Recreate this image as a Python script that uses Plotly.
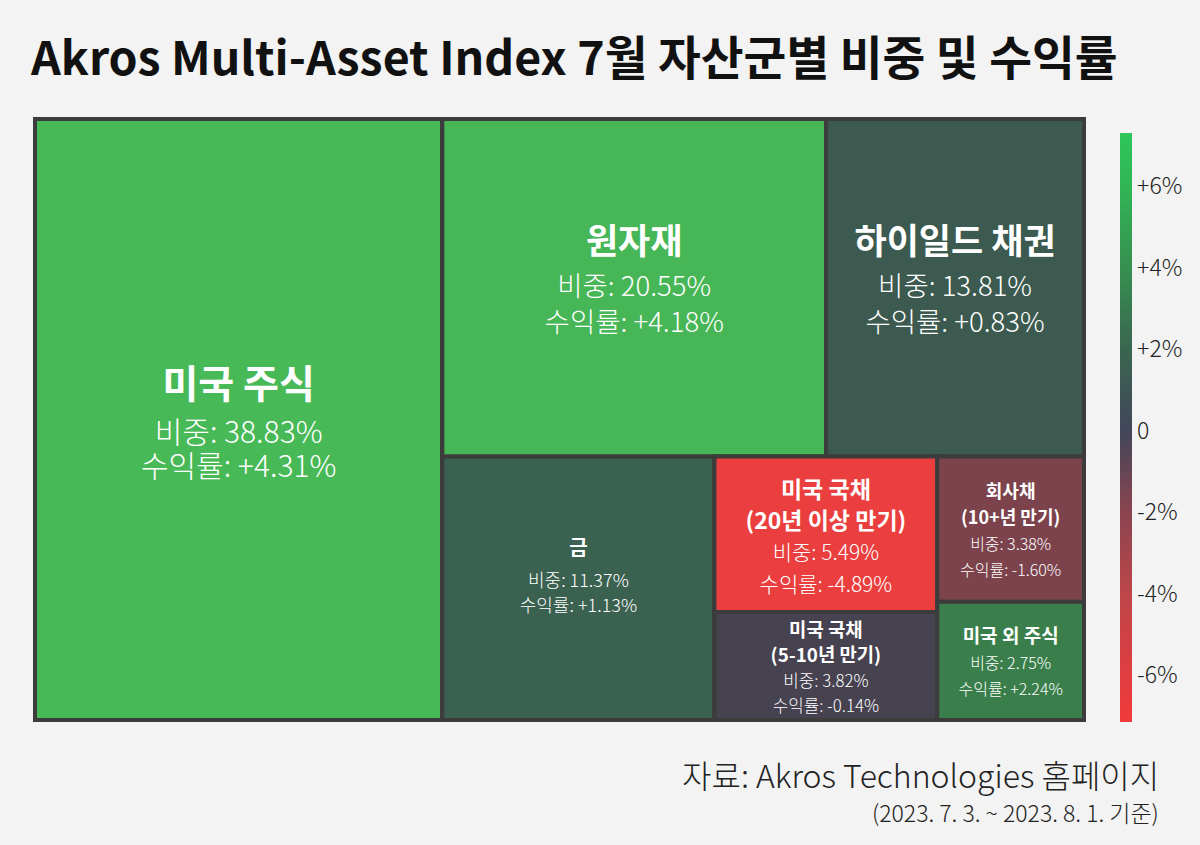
import plotly.graph_objects as go
from plotly.colors import sample_colorscale

# ---------------- data ----------------
asset_names = ["미국 주식", "원자재", "하이일드 채권", "금",
               "미국 국채<br>(20년 이상 만기)", "미국 국채<br>(5-10년 만기)",
               "회사채<br>(10+년 만기)", "미국 외 주식"]
weights = [38.83, 20.55, 13.81, 11.37, 5.49, 3.82, 3.38, 2.75]
returns = [4.31, 4.18, 0.83, 1.13, -4.89, -0.14, -1.60, 2.24]

# grouping that reproduces the tile arrangement of the reference
asset_parents = ["root", "G2", "G2", "G3", "G4", "G4", "G5", "G5"]
group_ids = ["root", "G1", "G2", "G3", "G4", "G5"]
group_parents = ["", "root", "G1", "G1", "G3", "G3"]
# order in which nodes are listed (children order = listing order)
node_order = ["root", "미국 주식", "G1", "G2", "원자재", "하이일드 채권", "G3", "금",
              "G4", "미국 국채<br>(20년 이상 만기)", "미국 국채<br>(5-10년 만기)",
              "G5", "회사채<br>(10+년 만기)", "미국 외 주식"]

colorbar_tickvals = [6, 4, 2, 0, -2, -4, -6]
colorbar_ticktext = ["+6%", "+4%", "+2%", "0", "-2%", "-4%", "-6%"]

title_text = "Akros Multi-Asset Index 7월 자산군별 비중 및 수익률"
source_text = "자료: Akros Technologies 홈페이지"
period_text = "(2023. 7. 3. ~ 2023. 8. 1. 기준)"

# ---------------- styles ----------------
FONT = "Noto Sans CJK KR"
FRAME = "#3c3c3c"
BG = "#f3f3f3"
title_sizes = [39, 35, 35, 20, 23, 19, 18, 19]
body_sizes = [30, 27.5, 27.5, 18, 21, 17, 16, 16]
# line-height unit (base font size) and number of line steps title->body, body->body
base_sizes = [8.72, 4.6, 4.6, 4.85, 24, 19.5, 20, 20]
title_gaps = [4, 7, 7, 5, 1, 1, 1, 1]
body_gaps = [3, 6, 6, 4, 1, 1, 1, 1]
# empty steps below the text block (lifts the block slightly above centre)
tail_gaps = [0, 5, 5, 5, 0, 0, 0, 0]

TILE_MIN, TILE_MAX = -5.0, 5.0
tile_scale = [[0.0, "#ee3f3e"], [0.34, "#7c434c"], [0.5, "#41424f"],
              [0.583, "#3c5a50"], [0.613, "#3b6150"], [0.724, "#3a7f4b"],
              [0.93, "#48b957"], [1.0, "#4cc45a"]]

CB_MIN, CB_MAX = -7.15, 7.3
cb_scale = [[0.0, "#f23a3b"], [0.0796, "#e03d40"], [0.218, "#bd4649"],
            [0.356, "#8a444f"], [0.495, "#42465a"], [0.633, "#3a6650"],
            [0.772, "#369050"], [0.910, "#31b655"], [1.0, "#2ec65a"]]


def tile_color(r):
    t = (min(max(r, TILE_MIN), TILE_MAX) - TILE_MIN) / (TILE_MAX - TILE_MIN)
    return sample_colorscale(tile_scale, [t], colortype="rgb")[0]


def tile_text(i, name, w, r):
    ts, bs = title_sizes[i], body_sizes[i]
    title = "<br>".join(f"<span style='font-size:{ts}px'><b>{part}</b></span>"
                        for part in name.split("<br>"))
    b1 = f"<span style='font-size:{bs}px'>비중: {w:.2f}%</span>"
    b2 = f"<span style='font-size:{bs}px'>수익률: {r:+.2f}%</span>"
    txt = title + "<br>" * title_gaps[i] + b1 + "<br>" * body_gaps[i] + b2
    if tail_gaps[i]:
        txt += "<br>" * tail_gaps[i] + "<span style='font-size:2px'>&nbsp;</span>"
    return txt


nodes = {}
for gid, gp in zip(group_ids, group_parents):
    nodes[gid] = dict(label="", parent=gp, value=0, color=FRAME, text="",
                      size=12)
for i, (n, w, r, p) in enumerate(zip(asset_names, weights, returns, asset_parents)):
    nodes[n] = dict(label=n, parent=p, value=w, color=tile_color(r),
                    text=tile_text(i, n, w, r), size=base_sizes[i])

ids = node_order
W, H = 1200, 845
fig = go.Figure()
fig.add_trace(go.Treemap(
    ids=ids,
    labels=[nodes[k]["label"] for k in ids],
    parents=[nodes[k]["parent"] for k in ids],
    values=[nodes[k]["value"] for k in ids],
    branchvalues="remainder", sort=False,
    text=[nodes[k]["text"] for k in ids], textinfo="text",
    textposition="middle center",
    textfont=dict(family=FONT, color="white",
                  size=[nodes[k]["size"] for k in ids], weight=300),
    marker=dict(colors=[nodes[k]["color"] for k in ids],
                line=dict(color=FRAME, width=4),
                pad=dict(t=0, l=0, r=0, b=0)),
    tiling=dict(packing="slice-dice", pad=0),
    pathbar=dict(visible=False),
    domain=dict(x=[35 / W, 1084 / W], y=[1 - 720 / H, 1 - 119 / H]),
    hoverinfo="skip",
))

# colorbar carrier
fig.add_trace(go.Scatter(
    x=[None], y=[None], mode="markers", showlegend=False, hoverinfo="skip",
    marker=dict(color=[0], cmin=CB_MIN, cmax=CB_MAX, colorscale=cb_scale,
                showscale=True,
                colorbar=dict(x=1120 / W, xanchor="left", xpad=0,
                              y=1 - 427.5 / H, yanchor="middle", ypad=0,
                              lenmode="pixels", len=589,
                              thickness=12, outlinewidth=0, ticks="",
                              tickvals=colorbar_tickvals,
                              ticktext=colorbar_ticktext,
                              tickfont=dict(family=FONT, size=23, color="#222",
                                            weight=300))),
))

fig.update_layout(
    width=W, height=H, paper_bgcolor=BG, plot_bgcolor=BG,
    margin=dict(l=0, r=0, t=0, b=0),
    xaxis=dict(visible=False), yaxis=dict(visible=False),
    font=dict(family=FONT),
    annotations=[
        dict(text=f"<b>{title_text}</b>", x=28 / W, y=1 - 54 / H,
             xref="paper", yref="paper", xanchor="left", yanchor="middle",
             showarrow=False, font=dict(size=46.5, color="#111", family=FONT)),
        dict(text=source_text, x=1161 / W, y=1 - 774 / H,
             xref="paper", yref="paper", xanchor="right", yanchor="middle",
             showarrow=False, font=dict(size=32, color="#222", family=FONT,
                                        weight=300)),
        dict(text=period_text, x=1161 / W, y=1 - 812 / H,
             xref="paper", yref="paper", xanchor="right", yanchor="middle",
             showarrow=False, font=dict(size=23, color="#222", family=FONT,
                                        weight=300)),
    ],
)

fig.write_html(
    "out.html",
    config={"displayModeBar": False},
    post_script="document.body.style.margin='0';"
                "document.body.style.background='#f3f3f3';",
)
